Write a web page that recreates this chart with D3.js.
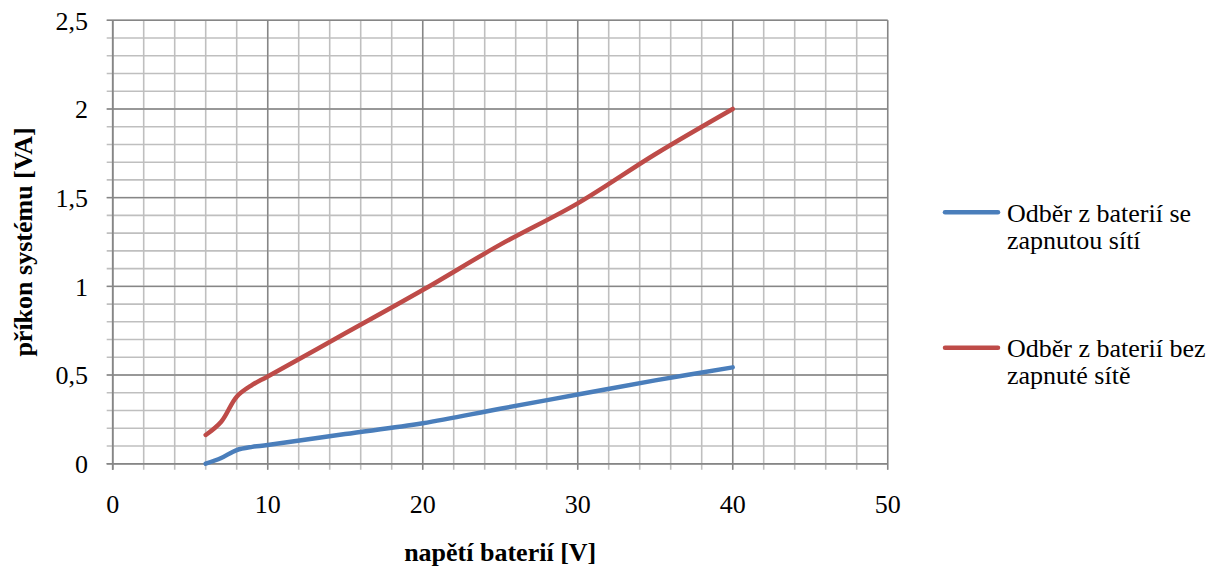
<!DOCTYPE html>
<html><head><meta charset="utf-8">
<script src="https://cdn.jsdelivr.net/npm/d3@7"></script>
<style>body{margin:0;background:#fff}svg{display:block}
text{font-family:"Liberation Serif","Times New Roman","DejaVu Serif",serif}</style>
</head><body>
<svg id="c" width="1209" height="567"></svg>
<script>
const voltage = [6, 7, 8, 9, 10, 15, 20, 25, 30, 35, 40];
const seNet   = [0.0, 0.032, 0.077, 0.095, 0.105, 0.167, 0.228, 0.31, 0.39, 0.47, 0.543];
const bezNet  = [0.162, 0.237, 0.378, 0.444, 0.492, 0.735, 0.979, 1.235, 1.468, 1.745, 2.0];
const seriesNames = ["Odběr z baterií se zapnutou sítí", "Odběr z baterií bez zapnuté sítě"];
const legendLines = [["Odběr z baterií se", "zapnutou sítí"], ["Odběr z baterií bez", "zapnuté sítě"]];
const colors = ["#4a7ebb", "#be4b48"];
const xTicks = [0, 10, 20, 30, 40, 50];
const yTicks = [0, 0.5, 1, 1.5, 2, 2.5];
const yTickLabels = ["0", "0,5", "1", "1,5", "2", "2,5"];
const xTitle = "napětí baterií [V]";
const yTitle = "příkon systému [VA]";

const svg = d3.select("#c");
const L = 112.7, R = 887.7, T = 20.3, B = 463.7;
const x = d3.scaleLinear().domain([0, 50]).range([L, R]);
const y = d3.scaleLinear().domain([0, 2.5]).range([B, T]);
const FS = 26;

const minorX = d3.range(0, 50.001, 2);
const minorY = d3.range(0, 2.5001, 0.1);
const g = svg.append("g");
g.selectAll(".mx").data(minorX).join("line")
  .attr("x1", d => x(d)).attr("x2", d => x(d)).attr("y1", T).attr("y2", B + 6)
  .attr("stroke", "#bfbfbf").attr("stroke-width", 1.6);
g.selectAll(".my").data(minorY).join("line")
  .attr("x1", L - 6).attr("x2", R).attr("y1", d => y(d)).attr("y2", d => y(d))
  .attr("stroke", "#bfbfbf").attr("stroke-width", 1.6);
g.selectAll(".Mx").data(xTicks).join("line")
  .attr("x1", d => x(d)).attr("x2", d => x(d)).attr("y1", T).attr("y2", B + 6)
  .attr("stroke", "#868686").attr("stroke-width", 1.4);
g.selectAll(".My").data(yTicks).join("line")
  .attr("x1", L - 6).attr("x2", R).attr("y1", d => y(d)).attr("y2", d => y(d))
  .attr("stroke", "#868686").attr("stroke-width", 1.4);
g.append("line").attr("x1", L).attr("x2", L).attr("y1", T).attr("y2", B + 6).attr("stroke", "#868686").attr("stroke-width", 1.6);
g.append("line").attr("x1", L - 6).attr("x2", R).attr("y1", B).attr("y2", B).attr("stroke", "#868686").attr("stroke-width", 1.6);

svg.selectAll(".xl").data(xTicks).join("text")
  .attr("x", d => x(d)).attr("y", 513).attr("text-anchor", "middle")
  .attr("font-size", FS).text(d => d);
svg.selectAll(".yl").data(yTicks).join("text")
  .attr("x", 88).attr("y", d => y(d) + 9.3).attr("text-anchor", "end")
  .attr("font-size", FS).text((d, i) => yTickLabels[i]);

svg.append("text").attr("x", (L + R) / 2).attr("y", 561).attr("text-anchor", "middle")
  .attr("font-weight", "bold").attr("font-size", FS).text(xTitle);
svg.append("text").attr("transform", `translate(32,${(T + B) / 2}) rotate(-90)`).attr("text-anchor", "middle")
  .attr("font-weight", "bold").attr("font-size", FS).text(yTitle);

const line = d3.line().curve(d3.curveCatmullRom.alpha(0.5)).x(d => x(d[0])).y(d => y(d[1]));
[seNet, bezNet].forEach((vals, i) => {
  svg.append("path").datum(voltage.map((v, j) => [v, vals[j]]))
    .attr("d", line).attr("fill", "none").attr("stroke", colors[i])
    .attr("stroke-width", 4.5).attr("stroke-linecap", "round").attr("stroke-linejoin", "round");
});

const legY = [212.3, 347.7];
legendLines.forEach((lines, i) => {
  svg.append("line").attr("x1", 945).attr("x2", 998).attr("y1", legY[i]).attr("y2", legY[i])
    .attr("stroke", colors[i]).attr("stroke-width", 4.5).attr("stroke-linecap", "round");
  const t = svg.append("text").attr("font-size", FS);
  lines.forEach((s, k) => t.append("tspan").attr("x", 1007).attr("y", legY[i] + 9.5 + k * 27).text(s));
});
</script>
</body></html>
